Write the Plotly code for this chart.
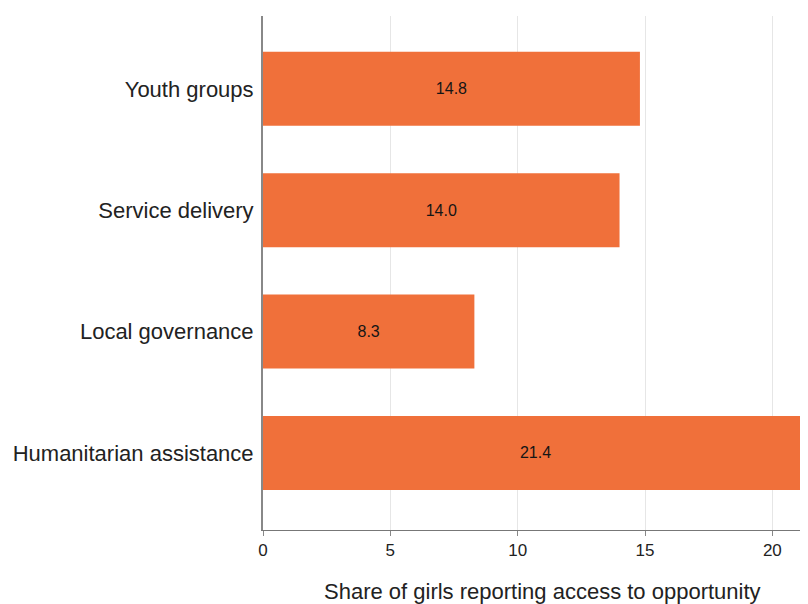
import plotly.graph_objects as go

categories = ["Humanitarian assistance", "Local governance", "Service delivery", "Youth groups"]
values = [21.4, 8.3, 14.0, 14.8]
x_ticks = [0, 5, 10, 15, 20]
x_title = "Share of girls reporting access to opportunity"

FONT = "Liberation Sans, Arial, Helvetica, sans-serif"

fig = go.Figure(go.Bar(
    x=values, y=categories, orientation="h",
    marker=dict(color="#F0703A", line=dict(width=0)),
    width=0.61,
    texttemplate="%{x:.1f}", textposition="inside", insidetextanchor="middle",
    textfont=dict(color="#151515", size=16, family=FONT),
))

fig.update_layout(
    width=800, height=596,
    margin=dict(l=255, r=0, t=8, b=74),
    paper_bgcolor="white", plot_bgcolor="white",
    font=dict(family=FONT, color="#222222"),
    showlegend=False,
    xaxis=dict(
        range=[0, 21.4], tickvals=x_ticks, ticktext=[str(t) for t in x_ticks],
        showgrid=True, gridcolor="#e6e6e6", gridwidth=1,
        showline=True, linecolor="#777777", linewidth=1,
        ticks="outside", ticklen=5, tickcolor="#888888",
        tickfont=dict(size=17, color="#222222"),
        zeroline=False,
    ),
    yaxis=dict(
        categoryorder="array", categoryarray=categories,
        range=[-0.635, 3.6],
        showline=True, linecolor="#888888", linewidth=2,
        showgrid=False, ticks="", ticklabelstandoff=3,
        tickfont=dict(size=22, color="#222222"),
    ),
    annotations=[dict(
        text=x_title, xref="paper", yref="paper",
        x=0.5125, y=-0.1206, xanchor="center", yanchor="middle",
        showarrow=False, font=dict(size=22, color="#222222", family=FONT),
    )],
)

fig.write_html("out.html")
